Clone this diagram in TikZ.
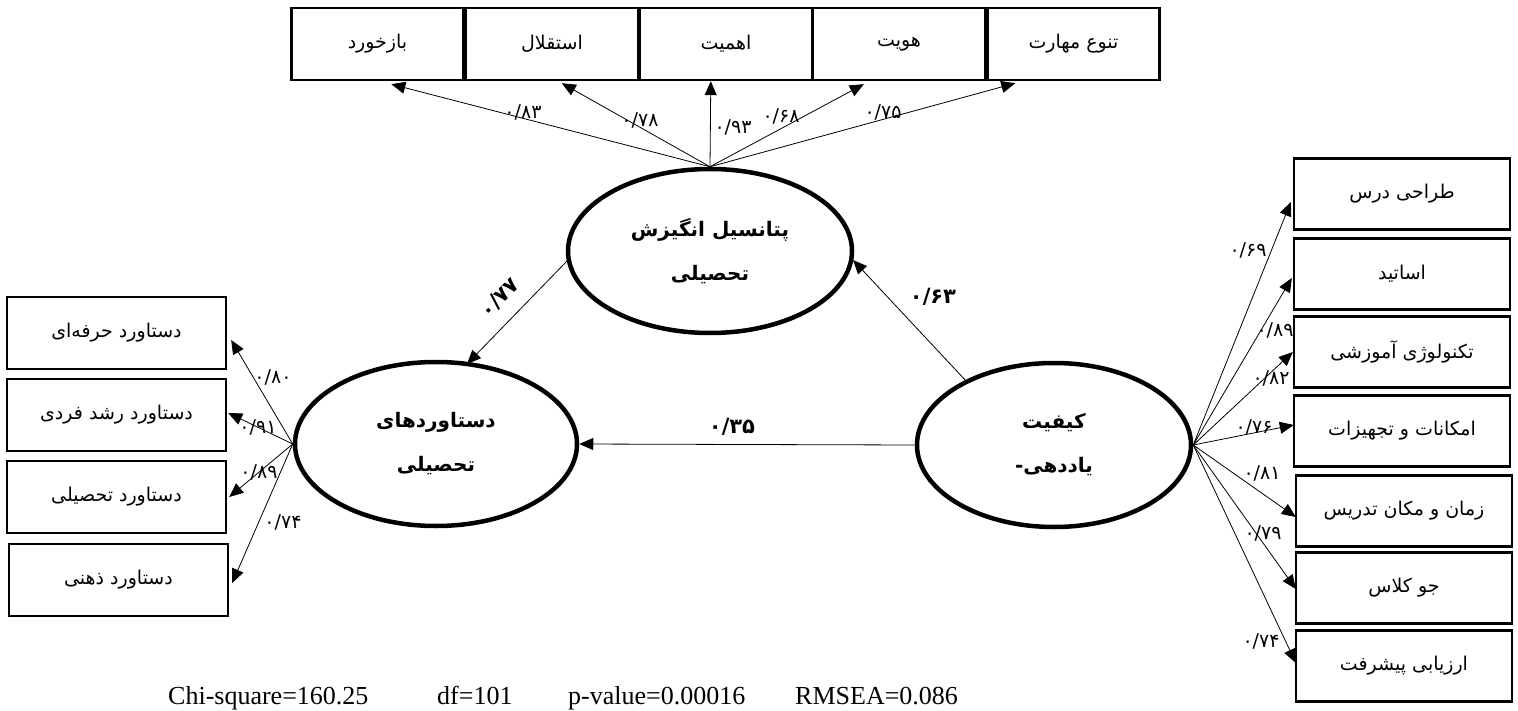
\documentclass[tikz,border=0pt]{standalone}
\usepackage{fontspec}
\setmainfont{Liberation Serif}
\newfontfamily\arabicfont[Script=Arabic]{DejaVu Sans}
\TeXXeTstate=1
\usetikzlibrary{arrows.meta,shapes.geometric,calc}
\begin{document}
\begin{tikzpicture}[x=1pt,y=-1pt,
  box/.style={draw, line width=2.4pt, minimum width=172pt, minimum height=72pt, inner sep=0pt,
    font=\arabicfont\fontsize{19}{22}\selectfont},
  lbox/.style={box, minimum width=219pt},
  rbox/.style={box, minimum width=216pt, minimum height=71pt},
  lat/.style={draw, ellipse, line width=4.5pt, inner sep=0pt, align=center,
    font=\arabicfont\bfseries\fontsize{20}{44}\selectfont},
  arr/.style={line width=0.8pt, -{Triangle[length=14pt,width=12pt]}},
  num/.style={font=\arabicfont\fontsize{19}{21}\selectfont, inner sep=0pt},
  bnum/.style={font=\arabicfont\bfseries\fontsize{21}{24}\selectfont, inner sep=0pt},
  fit/.style={font=\fontsize{26}{28}\selectfont, inner sep=0pt, anchor=base west}]
\useasboundingbox (0,0) rectangle (1518,711);

% latent variables
\node[lat, minimum width=284pt, minimum height=164pt] (pot) at (710,251)
  {\beginR پتانسیل انگیزش\endR\\\beginR تحصیلی\endR};
\node[lat, minimum width=282pt, minimum height=164pt] (ach) at (436,444)
  {\beginR دستاوردهای\endR\\\beginR تحصیلی\endR};
\node[lat, minimum width=274pt, minimum height=164pt] (kef) at (1054,445)
  {\beginR کیفیت\endR\\\beginR یاددهی-\endR};

% top indicators
\node[box] (t1) at (377.5,44) {\beginR بازخورد\endR};
\node[box] (t2) at (552,44) {\beginR استقلال\endR};
\node[box] (t3) at (726,44) {\beginR اهمیت\endR};
\node[box] (t4) at (899,44) {\beginR هویت\endR};
\node[box] (t5) at (1073.5,44) {\beginR تنوع مهارت\endR};

% left indicators
\node[lbox] (l1) at (116.5,333) {\beginR دستاورد حرفه‌ای\endR};
\node[lbox] (l2) at (116.5,415) {\beginR دستاورد رشد فردی\endR};
\node[lbox] (l3) at (116.5,497) {\beginR دستاورد تحصیلی\endR};
\node[lbox] (l4) at (118.5,580) {\beginR دستاورد ذهنی\endR};

% right indicators
\node[rbox] (r1) at (1402,194) {\beginR طراحی درس\endR};
\node[rbox] (r2) at (1402,274) {\beginR اساتید\endR};
\node[rbox] (r3) at (1402,352) {\beginR تکنولوژی آموزشی\endR};
\node[rbox] (r4) at (1402,431) {\beginR امکانات و تجهیزات\endR};
\node[rbox] (r5) at (1404,511) {\beginR زمان و  مکان تدریس\endR};
\node[rbox] (r6) at (1404,588) {\beginR جو کلاس\endR};
\node[rbox] (r7) at (1404,666) {\beginR ارزیابی پیشرفت\endR};

% top arrows
\draw[arr] (pot.north) -- ($(t1.south west)+(101,3)$);
\draw[arr] (pot.north) -- ($(t2.south west)+(97,2)$);
\draw[arr] (pot.north) -- ($(t3.south west)+(72,0)$);
\draw[arr] (pot.north) -- ($(t4.south west)+(52,3)$);
\draw[arr] (pot.north) -- ($(t5.south west)+(29,2)$);
\node[num] (n1) at (523,112) {۰/۸۳};
\node[num] (n2) at (640,120) {۰/۷۸};
\node[num] (n3) at (733,127) {۰/۹۳};
\node[num] (n4) at (781,116) {۰/۶۸};
\node[num] (n5) at (883,112) {۰/۷۵};

% left arrows
\draw[arr] (ach.west) -- ($(l1.east)+(4,7)$);
\draw[arr] (ach.west) -- ($(l2.east)+(1,-2)$);
\draw[arr] (ach.west) -- ($(l3.east)+(2,0)$);
\draw[arr] (ach.west) -- ($(l4.east)+(3,3)$);
\node[num] (m1) at (273,377) {۰/۸۰};
\node[num] (m2) at (258,427) {۰/۹۱};
\node[num] (m3) at (259,472) {۰/۸۹};
\node[num] (m4) at (283,522) {۰/۷۴};

% right arrows
\draw[arr] (kef.east) -- ($(r1.west)+(-2,8)$);
\draw[arr] (kef.east) -- ($(r2.west)+(-1,4)$);
\draw[arr] (kef.east) -- ($(r3.west)+(0,0)$);
\draw[arr] (kef.east) -- ($(r4.west)+(1,-6)$);
\draw[arr] (kef.east) -- ($(r5.west)+(1,6)$);
\draw[arr] (kef.east) -- ($(r6.west)+(1,1)$);
\draw[arr] (kef.east) -- ($(r7.west)+(1,-3)$);
\node[num] (k1) at (1248,250) {۰/۶۹};
\node[num] (k2) at (1275,330) {۰/۸۹};
\node[num] (k3) at (1271,378) {۰/۸۲};
\node[num] (k4) at (1254,427) {۰/۷۶};
\node[num] (k5) at (1262,473) {۰/۸۱};
\node[num] (k6) at (1263,533) {۰/۷۹};
\node[num] (k7) at (1261,641) {۰/۷۴};

% structural paths
\draw[arr] ($(pot.center)+(-142,9)$) -- ($(ach.center)+(31,-80)$);
\draw[arr] ($(kef.center)+(-87,-63)$) -- ($(pot.center)+(143,9)$);
\draw[arr] (kef.west) -- (ach.east);
\node[bnum, rotate=45] (s1) at (500,298) {۰/۷۷};
\node[bnum] (s2) at (933,297) {۰/۶۳};
\node[bnum] (s3) at (732,427) {۰/۳۵};

% fit indices
\node[fit] (f1) at (168,704) {Chi-square=160.25};
\node[fit] (f2) at (437,704) {df=101};
\node[fit] (f3) at (568,704) {p-value=0.00016};
\node[fit] (f4) at (795,704) {RMSEA=0.086};
\end{tikzpicture}
\end{document}
